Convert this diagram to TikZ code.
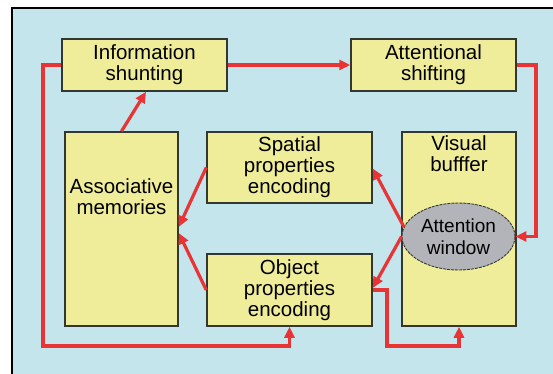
\documentclass[tikz,border=0pt]{standalone}
\usepackage{fontspec}
\setmainfont{Liberation Sans}
\usetikzlibrary{arrows.meta,shapes.geometric,calc}
\definecolor{bgblue}{RGB}{196,229,236}
\definecolor{boxyellow}{RGB}{239,236,154}
\definecolor{linered}{RGB}{232,52,52}
\definecolor{wingray}{RGB}{178,180,186}
\definecolor{edgegray}{RGB}{50,55,50}
\tikzset{
  box/.style={draw=edgegray,line width=1.5pt,fill=boxyellow,rectangle,inner sep=0pt,align=center,
    font=\fontsize{20.5}{21}\selectfont},
  lbl/.style={inner sep=0pt,align=center,font=\fontsize{20.5}{21}\selectfont},
  conn/.style={draw=linered,line width=3.2pt,line cap=butt,line join=miter},
  arr/.style={conn,-{Triangle[length=11pt,width=10pt]}},
}
\begin{document}
\begin{tikzpicture}[x=1pt,y=-1pt]
\useasboundingbox (0,0) rectangle (553,374);
\fill[white] (0,0) rectangle (553,374);
\fill[bgblue] (12,8) rectangle (553,374);
\draw[black,line width=2.4pt] (12,374) -- (12,8) -- (553,8);

\node[box,minimum width=165pt,minimum height=52pt] (info) at (144.5,65) {Information\\shunting};
\node[box,minimum width=165pt,minimum height=52pt] (attn) at (433.5,65) {Attentional\\shifting};
\node[box,minimum width=113pt,minimum height=194pt] (assoc) at (121.5,229) {};
\node[lbl] (assoctext) at (121.5,197) {Associative\\memories};
\node[box,minimum width=165pt,minimum height=71pt] (spatial) at (289.5,167.5) {Spatial\\properties\\encoding};
\node[box,minimum width=165pt,minimum height=72pt] (object) at (289.5,290) {Object\\properties\\encoding};
\node[box,minimum width=114pt,minimum height=194pt] (visual) at (459,229) {};
\node[lbl] (visualtext) at (459,154) {Visual\\bufffer};
\node[ellipse,draw=edgegray,dashed,dash pattern=on 3pt off 1pt,line width=0.9pt,fill=wingray,
  minimum width=113pt,minimum height=67pt,inner sep=0pt,align=center,
  font=\fontsize{19}{21.5}\selectfont] (win) at (458.5,236.5) {Attention\\window};

\coordinate (c1) at (536,65);
\coordinate (c2) at (43,65);
\coordinate (c3) at (43,346);
\coordinate (c4) at (387,290);
\coordinate (c5) at (387,346);

\draw[arr] (info.east) -- (attn.west);
\draw[arr] (attn.east) -- (c1) |- (win.east);
\draw[arr] (assoc.north) -- ($(info.south)+(1.5,0)$);
\draw[arr] (win.170) -- ($(spatial.east)+(0,1)$);
\draw[arr] (win.west) -- ($(object.east)+(0,-2)$);
\draw[arr] (spatial.west) -- ($(assoc.east)+(0,-2)$);
\draw[arr] (object.west) -- ($(assoc.east)+(0,4)$);
\draw[arr] (info.west) -- (c2) -- (c3) -| (object.south);
\draw[arr] (object.east) -- (c4) -- (c5) -| (visual.south);
\end{tikzpicture}
\end{document}
